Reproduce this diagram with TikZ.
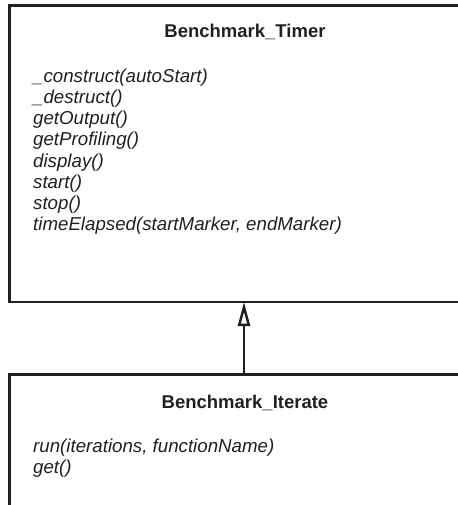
\documentclass[tikz,border=0pt]{standalone}
\usepackage{fontspec}
\setmainfont{Liberation Sans}
\usetikzlibrary{arrows.meta}
\definecolor{ink}{HTML}{231F20}
\begin{document}
\begin{tikzpicture}[x=1pt,y=-1pt,
  classbox/.style={draw=ink, line width=2.7pt, inner sep=0pt, outer sep=0pt, anchor=north west},
  classtitle/.style={text=ink, font=\fontsize{18.5}{21}\selectfont\bfseries, anchor=base, inner sep=0pt},
  method/.style={text=ink, font=\fontsize{18.7}{21}\selectfont\itshape, anchor=base west, inner sep=0pt},
  inherit/.style={draw=ink, line width=2.7pt, -{Triangle[open, length=24pt, width=12pt, line width=2.5pt]}}
]
\useasboundingbox (0,0) rectangle (457,505);
\node[classbox, minimum width=469pt, minimum height=296.5pt] (timer) at (9.5,5.5) {};
\node[classbox, minimum width=469pt, minimum height=200pt] (iterate) at (9.5,374.5) {};
\node[classtitle] (timertitle) at (245,38) {Benchmark\_Timer};
\foreach \n/\t [count=\i from 0] in {m1/\_construct(autoStart), m2/\_destruct(), m3/getOutput(), m4/getProfiling(), m5/display(), m6/start(), m7/stop(), m8/{timeElapsed(startMarker, endMarker)}}
  \node[method] (\n) at (33,83+21*\i) {\t};
\node[classtitle] (iteratetitle) at (245,408) {Benchmark\_Iterate};
\node[method] (r1) at (33,452) {run(iterations, functionName)};
\node[method] (r2) at (33,473) {get()};
\draw[inherit] (iterate.north) -- (timer.south);
\end{tikzpicture}
\end{document}
